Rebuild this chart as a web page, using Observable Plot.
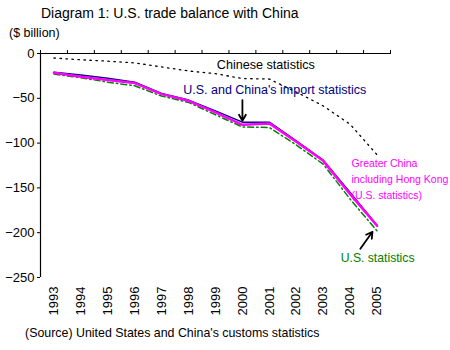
<!DOCTYPE html>
<html><head><meta charset="utf-8">
<script src="https://cdn.jsdelivr.net/npm/d3@7"></script>
<script src="https://cdn.jsdelivr.net/npm/@observablehq/plot@0.6"></script>
<style>
body{margin:0;background:#fff;font-family:"Liberation Sans",Arial,sans-serif;}
#wrap{position:relative;width:450px;height:350px;}
.t{position:absolute;white-space:nowrap;color:#000;line-height:1;}
</style></head><body>
<div id="wrap">
<div id="chart"></div>
<div class="t" style="left:41px;top:6px;font-size:14px">Diagram 1: U.S. trade balance with China</div>
<div class="t" style="left:9px;top:27px;font-size:12.5px">($ billion)</div>
<div class="t" style="left:25px;top:327px;font-size:12.4px">(Source) United States and China's customs statistics</div>
</div>
<script>
const years = [1993,1994,1995,1996,1997,1998,1999,2000,2001,2002,2003,2004,2005];
const usStats      = [-23,-27,-32,-36,-47.5,-54.6,-68.4,-82,-82.6,-102,-123.5,-162.5,-198];
const greaterChina = [-21.5,-26,-29.7,-33,-45.3,-52.8,-65.8,-79.6,-78,-98.5,-119.8,-157,-192.3];
const importStats  = [-20.8,-24,-27.5,-32,-44.5,-52,-64,-76.6,-76.6,-97.4,-119,-155,-192];
const chineseStats = [-5,-7,-8.6,-10.5,-15,-19.5,-22.5,-28,-28.5,-43,-58.5,-79,-113];
const yTicks = [0,-50,-100,-150,-200,-250];
const bandEdges = [1992.5,1993.5,1994.5,1995.5,1996.5,1997.5,1998.5,1999.5,2000.5,2001.5,2002.5,2003.5,2004.5,2005.5];

const labelTexts = ["Chinese statistics","U.S. and China's import statistics","Greater China","including Hong Kong","(U.S. statistics)","U.S. statistics"];
const labelYears = [1999.05,1997.8,2004.05,2004.05,2004.05,2003.65];
const labelValues = [-12.6,-40.5,-123,-141,-159,-228];
const labelColors = ["#000000","#000080","#ff00ff","#ff00ff","#ff00ff","#008000"];
const labelSizes = [12.6,12.5,10.5,10.5,10.5,12.2];

const arrowFrom = [[2000,-52],[2004.38,-218]];
const arrowTo   = [[2000,-75],[2004.83,-199]];

const rows = vals => years.map((y,i)=>({year:y, value:vals[i]}));
const labels = labelTexts.map((t,i)=>({text:t, x:labelYears[i], y:labelValues[i], c:labelColors[i], s:labelSizes[i]}));
const arrows = arrowFrom.map((f,i)=>({x1:f[0],y1:f[1],x2:arrowTo[i][0],y2:arrowTo[i][1]}));

const fmt = d => d < 0 ? "\u2212" + (-d) : String(d);

const plot = Plot.plot({
  width:450, height:350,
  marginLeft:40, marginRight:60, marginTop:53, marginBottom:73,
  style:{fontFamily:'"Liberation Sans",Arial,sans-serif', fontSize:"13px", background:"transparent", color:"#000", overflow:"visible"},
  x:{type:"linear", domain:[1992.5,2005.5]},
  y:{domain:[-250,0]},
  marks:[
    Plot.axisY({ticks:yTicks, tickSize:3, tickPadding:3, label:null, fontSize:13, tickFormat:fmt}),
    Plot.axisX({anchor:"bottom", ticks:years, tickSize:0, tickRotate:-90, tickPadding:9, tickFormat:d=>String(d), label:null, fontSize:13}),
    Plot.axisX({anchor:"top", ticks:bandEdges, tickSize:4, tickFormat:()=>"", label:null}),
    Plot.ruleY([0], {stroke:"#000", strokeWidth:1.2}),
    Plot.ruleX([1992.5], {stroke:"#000", strokeWidth:1.2}),
    Plot.line(rows(chineseStats), {x:"year", y:"value", stroke:"#000", strokeWidth:1.3, strokeDasharray:"1.5,4.5"}),
    Plot.line(rows(usStats), {x:"year", y:"value", stroke:"#008000", strokeWidth:1.5, strokeDasharray:"6,3,1.5,3"}),
    Plot.line(rows(importStats), {x:"year", y:"value", stroke:"#000080", strokeWidth:1.5}),
    Plot.line(rows(greaterChina), {x:"year", y:"value", stroke:"#ff00ff", strokeWidth:2.5}),
    Plot.arrow(arrows, {x1:"x1", y1:"y1", x2:"x2", y2:"y2", stroke:"#000", strokeWidth:1.8, headLength:7}),
    Plot.text(labels, {x:"x", y:"y", text:"text", fill:"c", fontSize:"s", textAnchor:"start"})
  ]
});
document.getElementById("chart").appendChild(plot);
</script>
</body></html>
